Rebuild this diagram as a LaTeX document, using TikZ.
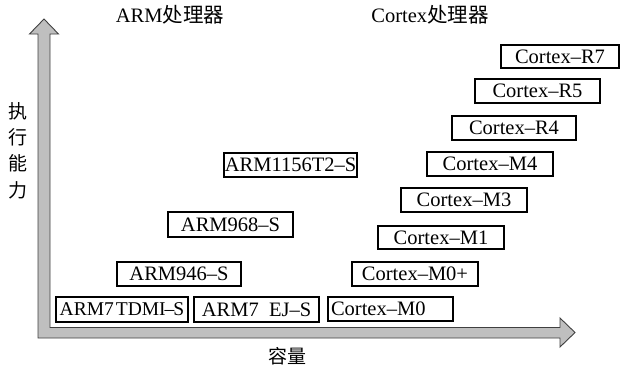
\documentclass[tikz,border=0pt]{standalone}
\usepackage{fontspec}
\setmainfont{Liberation Serif}
\newfontfamily\cjk{Noto Sans CJK SC}
\tikzset{
  cpu/.style={draw=black, line width=1.1pt, minimum height=24pt, inner sep=0pt, font=\fontsize{20.5}{22}\selectfont},
  axisarrow/.style={draw=black!75, line width=0.9pt, fill=gray!50},
  title/.style={font=\fontsize{20.5}{22}\selectfont},
  cjklab/.style={font=\fontsize{19}{21}\selectfont\cjk}
}
\begin{document}
\begin{tikzpicture}[x=1pt,y=-1pt]
\useasboundingbox (0,0) rectangle (623,370);
% axes
\draw[axisarrow] (38,338) -- (560,338) -- (560,347) -- (575,332.5) -- (560,318) -- (560,327.5)
  -- (50,327.5) -- (50,34) -- (58.5,34) -- (44,19) -- (29.5,34) -- (38,34) -- cycle;
% titles
\node[title] (tarm) at (170,15) {ARM{\cjk 处理器}};
\node[title] (tcor) at (430,15) {Cortex{\cjk 处理器}};
\node[cjklab] (y1) at (18,111) {执};
\node[cjklab] (y2) at (18,137) {行};
\node[cjklab] (y3) at (18,163) {能};
\node[cjklab] (y4) at (18,190) {力};
\node[cjklab] (xl) at (287,356) {容量};
% ARM boxes
\node[cpu, minimum width=133pt] (a1156) at (290.5,165) {ARM1156T2–S};
\node[cpu, minimum width=125pt, minimum height=25pt] (a968) at (230.5,224.5) {ARM968–S};
\node[cpu, minimum width=124pt] (a946) at (179,274) {ARM946–S};
\node[cpu, minimum width=132pt, minimum height=25pt, font=\fontsize{19.5}{22}\selectfont] (a7t) at (122,309.5) {ARM7\hspace{2pt}TDMI\hspace{-1pt}–\hspace{-1pt}S};
\node[cpu, minimum width=125pt, minimum height=25pt] (a7e) at (256.5,309.5) {ARM7\ \ EJ–S};
% Cortex boxes
\node[cpu, minimum width=125pt, text width=119pt, align=left] (m0) at (390.5,309) {Cortex–M0};
\node[cpu, minimum width=126pt] (m0p) at (415,274) {Cortex–M0+};
\node[cpu, minimum width=126pt, minimum height=23pt] (m1) at (441,237.5) {Cortex–M1};
\node[cpu, minimum width=126pt] (m3) at (464,200) {Cortex–M3};
\node[cpu, minimum width=126pt] (m4) at (490,164) {Cortex–M4};
\node[cpu, minimum width=124pt] (r4) at (514,128) {Cortex–R4};
\node[cpu, minimum width=125pt] (r5) at (537.5,91) {Cortex–R5};
\node[cpu, minimum width=118pt, minimum height=23pt] (r7) at (560,56.5) {Cortex–R7};
\end{tikzpicture}
\end{document}
